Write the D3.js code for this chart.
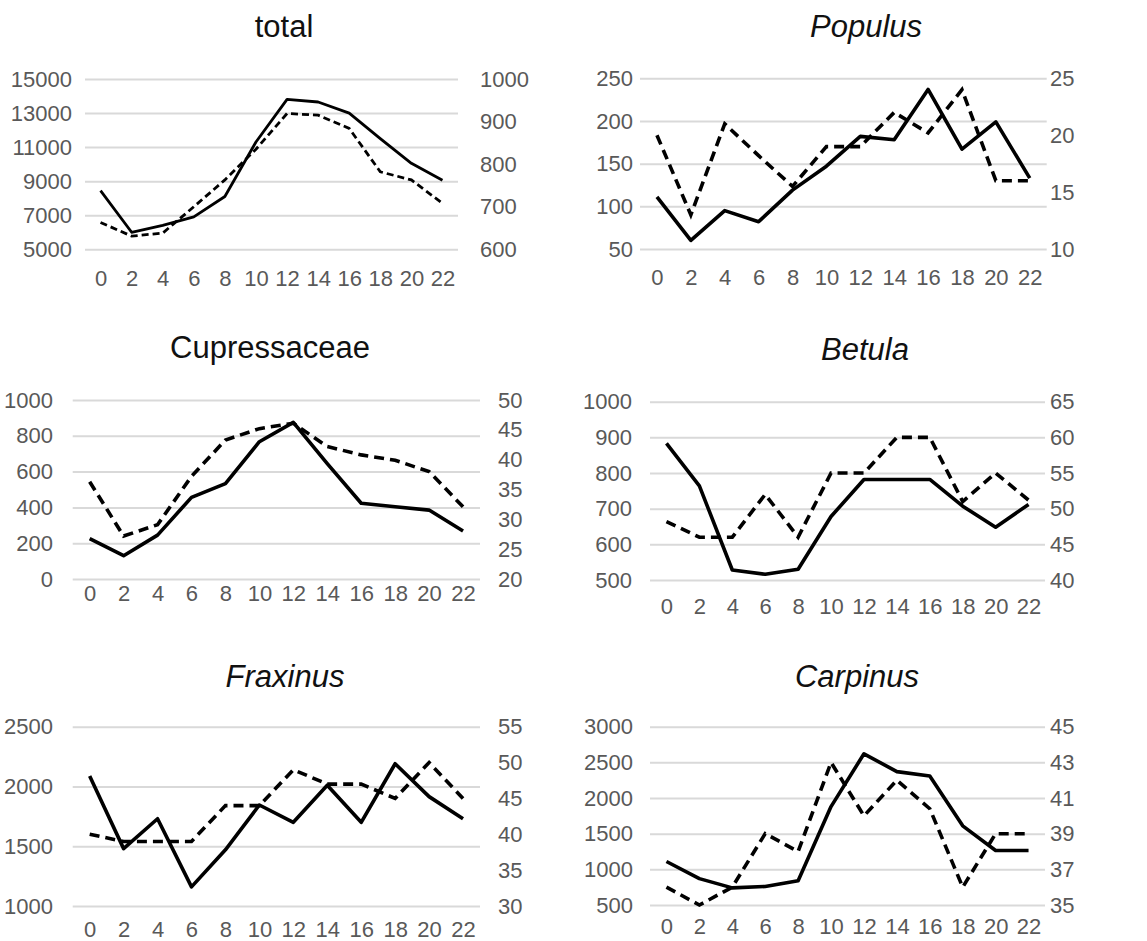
<!DOCTYPE html>
<html>
<head>
<meta charset="utf-8">
<script src="https://cdn.jsdelivr.net/npm/d3@7"></script>
<style>
  body { margin: 0; background: #fff; }
  svg { display: block; }
  text { font-family: "Liberation Sans", Arial, sans-serif; }
</style>
</head>
<body>
<svg id="chart" width="1147" height="941"></svg>
<script>
// Hour of day (x axis, shared by all panels)
const hours = [0, 2, 4, 6, 8, 10, 12, 14, 16, 18, 20, 22];

// Solid line: left axis; dashed line: right axis
const totalLeft  = [8450, 6000, 6400, 6900, 8100, 11300, 13800, 13650, 13000, 11500, 10050, 9050];
const totalRight = [663, 631, 638, 700, 763, 835, 919, 915, 884, 782, 763, 708];

const populusLeft  = [111, 60, 95, 82, 119, 147, 182, 178, 237, 167, 199, 133];
const populusRight = [20, 13, 21, 18.2, 15.5, 19, 19, 22, 20.2, 24, 16, 16];

const cupressLeft  = [225, 130, 245, 456, 533, 767, 875, 645, 423, 404, 385, 268];
const cupressRight = [36.3, 27.2, 29.1, 37.2, 43.3, 45.2, 46.1, 42.2, 40.8, 39.9, 38, 32.1];

const betulaLeft  = [883, 764, 528, 516, 530, 678, 782, 782, 782, 707, 648, 712];
const betulaRight = [48.2, 46, 46, 52, 46, 55, 55, 60, 60, 51, 55, 51.2];

const fraxinusLeft  = [2087, 1480, 1730, 1160, 1470, 1845, 1700, 2010, 1700, 2190, 1915, 1730];
const fraxinusRight = [40, 39, 39, 39, 44, 44, 49, 47, 47, 45, 50, 45];

const carpinusLeft  = [1110, 870, 740, 760, 840, 1880, 2620, 2370, 2310, 1610, 1265, 1265];
const carpinusRight = [36, 35, 36, 39, 38, 43, 40, 42, 40.4, 36, 39, 39];

// Axis tick labels
const totalLeftTicks     = [5000, 7000, 9000, 11000, 13000, 15000];
const totalRightTicks    = [600, 700, 800, 900, 1000];
const populusLeftTicks   = [50, 100, 150, 200, 250];
const populusRightTicks  = [10, 15, 20, 25];
const cupressLeftTicks   = [0, 200, 400, 600, 800, 1000];
const cupressRightTicks  = [20, 25, 30, 35, 40, 45, 50];
const betulaLeftTicks    = [500, 600, 700, 800, 900, 1000];
const betulaRightTicks   = [40, 45, 50, 55, 60, 65];
const fraxinusLeftTicks  = [1000, 1500, 2000, 2500];
const fraxinusRightTicks = [30, 35, 40, 45, 50, 55];
const carpinusLeftTicks  = [500, 1000, 1500, 2000, 2500, 3000];
const carpinusRightTicks = [35, 37, 39, 41, 43, 45];

const titles = ["total", "Populus", "Cupressaceae", "Betula", "Fraxinus", "Carpinus"];
const italicTitles = [false, true, false, true, true, true];

const panels = [
  { left: totalLeft, right: totalRight, lt: totalLeftTicks, rt: totalRightTicks,
    x0: 85, x1: 458, top: 79, bottom: 249.3, lblL: 72, lblR: 480, lblX: 278,
    tx: 284, ty: 37, lw: 2.8, dash: "7,4" },
  { left: populusLeft, right: populusRight, lt: populusLeftTicks, rt: populusRightTicks,
    x0: 640, x1: 1046.7, top: 78.3, bottom: 249, lblL: 633, lblR: 1050, lblX: 277,
    tx: 866, ty: 37, lw: 3.6, dash: "10,6" },
  { left: cupressLeft, right: cupressRight, lt: cupressLeftTicks, rt: cupressRightTicks,
    x0: 72.7, x1: 480, top: 400, bottom: 579, lblL: 53, lblR: 498, lblX: 593,
    tx: 270, ty: 358, lw: 3.6, dash: "10,6" },
  { left: betulaLeft, right: betulaRight, lt: betulaLeftTicks, rt: betulaRightTicks,
    x0: 650, x1: 1045, top: 401.7, bottom: 580, lblL: 632, lblR: 1050, lblX: 606,
    tx: 865, ty: 360, lw: 3.6, dash: "10,6" },
  { left: fraxinusLeft, right: fraxinusRight, lt: fraxinusLeftTicks, rt: fraxinusRightTicks,
    x0: 72.7, x1: 480, top: 726.7, bottom: 906, lblL: 53, lblR: 498, lblX: 929,
    tx: 285, ty: 687, lw: 3.6, dash: "10,6" },
  { left: carpinusLeft, right: carpinusRight, lt: carpinusLeftTicks, rt: carpinusRightTicks,
    x0: 650, x1: 1045, top: 726.7, bottom: 905, lblL: 633, lblR: 1050, lblX: 926,
    tx: 857, ty: 687, lw: 3.6, dash: "10,6" }
];

const svg = d3.select("#chart");
const tickColor = "#595959";
const gridColor = "#d9d9d9";
const tickFont = "22px";
const fmt = d3.format("d");

panels.forEach((p, i) => {
  const g = svg.append("g");

  const x = d3.scalePoint().domain(hours).range([p.x0, p.x1]).padding(0.5);
  const yL = d3.scaleLinear().domain(d3.extent(p.lt)).range([p.bottom, p.top]);
  const yR = d3.scaleLinear().domain(d3.extent(p.rt)).range([p.bottom, p.top]);

  // Left axis with horizontal gridlines
  const la = g.append("g")
    .attr("transform", `translate(${p.x0},0)`)
    .call(d3.axisLeft(yL).tickValues(p.lt).tickFormat(fmt)
      .tickSize(-(p.x1 - p.x0)).tickPadding(p.x0 - p.lblL));
  la.select(".domain").remove();
  la.selectAll("line").attr("stroke", gridColor).attr("stroke-width", 2);
  la.selectAll("text").attr("fill", tickColor).style("font-size", tickFont);

  // Right axis (labels only)
  const ra = g.append("g")
    .attr("transform", `translate(${p.x1},0)`)
    .call(d3.axisRight(yR).tickValues(p.rt).tickFormat(fmt)
      .tickSize(0).tickPadding(p.lblR - p.x1));
  ra.select(".domain").remove();
  ra.selectAll("text").attr("fill", tickColor).style("font-size", tickFont);

  // Hour axis
  const xa = g.append("g")
    .attr("transform", `translate(0,${p.bottom})`)
    .call(d3.axisBottom(x).tickSize(0));
  xa.select(".domain").remove();
  xa.selectAll("text")
    .attr("y", p.lblX - p.bottom)
    .attr("dy", "0.35em")
    .attr("fill", tickColor)
    .style("font-size", tickFont);

  // Series
  const lineL = d3.line().x((d, j) => x(hours[j])).y(d => yL(d));
  const lineR = d3.line().x((d, j) => x(hours[j])).y(d => yR(d));

  g.append("path").datum(p.right)
    .attr("d", lineR)
    .attr("fill", "none")
    .attr("stroke", "#000")
    .attr("stroke-width", p.lw)
    .attr("stroke-dasharray", p.dash);

  g.append("path").datum(p.left)
    .attr("d", lineL)
    .attr("fill", "none")
    .attr("stroke", "#000")
    .attr("stroke-width", p.lw)
    .attr("stroke-linejoin", "round");

  // Panel title
  g.append("text")
    .attr("x", p.tx)
    .attr("y", p.ty)
    .attr("text-anchor", "middle")
    .attr("fill", "#111")
    .style("font-size", "31px")
    .style("font-style", italicTitles[i] ? "italic" : "normal")
    .text(titles[i]);
});
</script>
</body>
</html>
